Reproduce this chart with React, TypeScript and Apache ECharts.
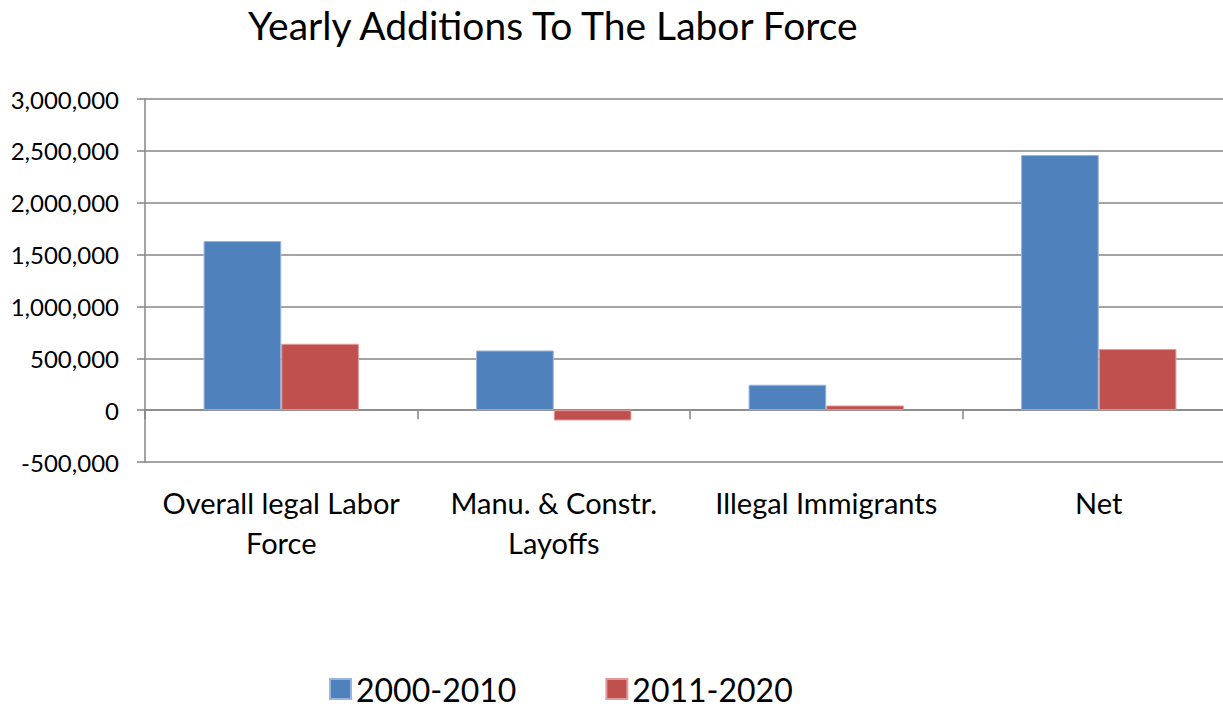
import React, { useEffect, useRef } from "react";
import * as echarts from "echarts";

const categories = [
  "Overall legal Labor\nForce",
  "Manu. & Constr.\nLayoffs",
  "Illegal Immigrants",
  "Net",
];
const seriesNames = ["2000-2010", "2011-2020"];
const values2000_2010 = [1630000, 575000, 245000, 2460000];
const values2011_2020 = [640000, -100000, 45000, 590000];
const yTicks = { min: -500000, max: 3000000, interval: 500000 };

const FONT = "Lato, 'Open Sans', sans-serif";

export default function App() {
  const ref = useRef<HTMLDivElement>(null);
  useEffect(() => {
    document.body.style.margin = "0";
    document.body.style.overflow = "hidden";
    document.documentElement.style.overflow = "hidden";
    const chart = echarts.init(ref.current!, null, { renderer: "svg" });
    chart.setOption({
      animation: false,
      textStyle: { fontFamily: FONT },
      title: {
        text: "Yearly Additions To The Labor Force",
        left: 243,
        top: 0,
        textStyle: { fontSize: 39, fontWeight: "normal", color: "#000", fontFamily: FONT },
      },
      legend: {
        top: 673,
        left: 329,
        itemWidth: 21,
        itemHeight: 20,
        itemGap: 89,
        padding: 0,
        icon: "rect",
        textStyle: { fontSize: 32, lineHeight: 30, color: "#000", fontFamily: FONT },
        data: seriesNames,
      },
      grid: { left: 145, top: 99, bottom: 247, right: 0, containLabel: false },
      xAxis: [
        {
          type: "category",
          data: categories,
          axisLine: { onZero: true, lineStyle: { color: "#868686", width: 1.5 } },
          axisTick: { show: true, length: 9, lineStyle: { color: "#868686", width: 1.5 } },
          axisLabel: { show: false },
        },
        {
          type: "category",
          data: categories,
          position: "bottom",
          axisLine: { show: false, onZero: false },
          axisTick: { show: false },
          axisLabel: {
            show: true,
            margin: 20,
            fontSize: 29,
            lineHeight: 40,
            color: "#000",
            fontFamily: FONT,
            interval: 0,
          },
        },
      ],
      yAxis: {
        type: "value",
        min: yTicks.min,
        max: yTicks.max,
        interval: yTicks.interval,
        axisLine: { show: true, lineStyle: { color: "#868686", width: 1.5 } },
        axisTick: { show: true, length: 8, lineStyle: { color: "#868686", width: 1.5 } },
        splitLine: { show: true, lineStyle: { color: "#868686", width: 1.5 } },
        axisLabel: {
          fontSize: 24,
          color: "#000",
          margin: 26,
          fontFamily: FONT,
          formatter: (v: number) => v.toLocaleString("en-US"),
        },
      },
      series: [
        {
          name: seriesNames[0],
          type: "bar",
          xAxisIndex: 0,
          data: values2000_2010,
          barGap: "0%",
          barCategoryGap: "43%",
          itemStyle: { color: "#4F81BD", borderColor: "#9AB5DB", borderWidth: 1 },
        },
        {
          name: seriesNames[1],
          type: "bar",
          xAxisIndex: 0,
          data: values2011_2020,
          barGap: "0%",
          barCategoryGap: "43%",
          itemStyle: { color: "#C0504D", borderColor: "#E09C9A", borderWidth: 1 },
        },
      ],
    });
    return () => chart.dispose();
  }, []);
  return <div ref={ref} style={{ width: 1235, height: 709 }} />;
}
